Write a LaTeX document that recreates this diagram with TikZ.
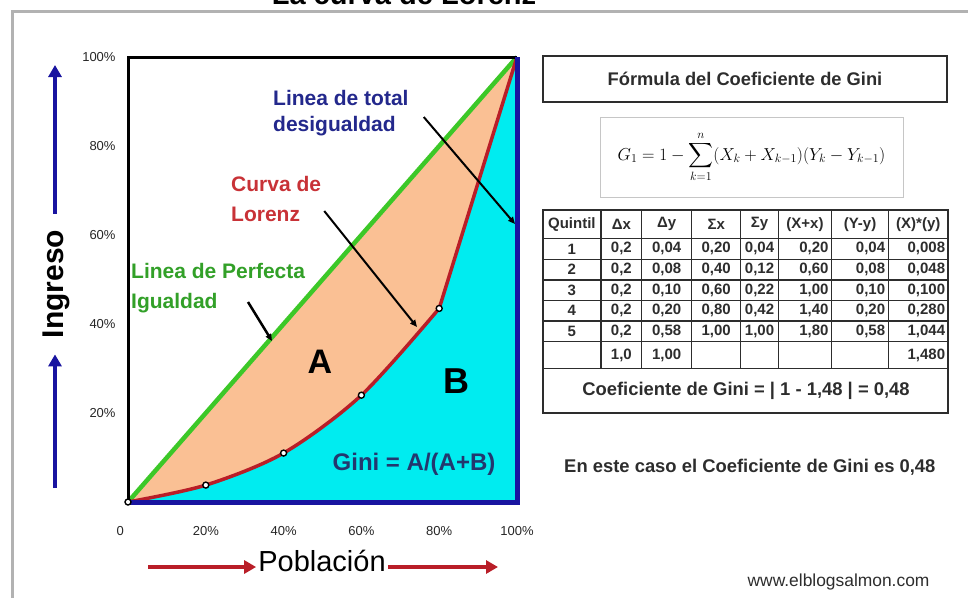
\documentclass[tikz,border=0pt]{standalone}
\usepackage[no-math]{fontspec}
\setmainfont{Liberation Sans}
\usepackage{amsmath}
\usepackage{xcolor}
\usetikzlibrary{arrows.meta}

\definecolor{cyanfill}{RGB}{0,236,240}
\definecolor{peach}{RGB}{250,192,148}
\definecolor{eqgreen}{RGB}{60,200,40}
\definecolor{lblgreen}{RGB}{50,160,40}
\definecolor{lorenzred}{RGB}{185,30,40}
\definecolor{lblred}{RGB}{200,50,55}
\definecolor{navy}{RGB}{25,20,160}
\definecolor{lblnavy}{RGB}{35,40,140}
\definecolor{ginitxt}{RGB}{35,55,110}
\definecolor{darktxt}{RGB}{45,45,45}

\tikzset{
  annot/.style={line width=2pt,-{Triangle[length=7pt,width=6pt]}},
  bigarrow/.style={line width=4.5pt,-{Triangle[length=12pt,width=13pt]}},
  ticklbl/.style={font=\fontsize{13}{15}\selectfont, text=black!85},
  lbl/.style={font=\fontsize{21}{30}\selectfont\bfseries, align=left, anchor=west, inner sep=0pt},
  cell/.style={font=\fontsize{15}{17}\selectfont\bfseries, text=darktxt, inner sep=0pt},
  ldot/.style={circle, draw=black, fill=white, line width=1.4pt, inner sep=0pt, minimum size=6pt},
}

\begin{document}
\begin{tikzpicture}[x=1pt,y=-1pt]
\useasboundingbox (0,0) rectangle (968,597);

% Outer frame
\draw[line width=3pt,gray!60] (12,600) -- (12,11) -- (972,11);

% Title
\node[font=\fontsize{29}{32}\selectfont\bfseries, anchor=base] (title) at (404,5) {La curva de Lorenz};

% Lorenz diagram (coordinates in percent)
\begin{scope}[shift={(128,502)}, x=3.89pt, y=4.45pt]
    % Areas A and B
    \fill[peach] (0,0) -- (100,100) -- (100,0) -- cycle;
    \fill[cyanfill] plot[smooth] coordinates {(0,0) (20,3.8) (40,11) (60,24) (80,43.5)}
        -- (100,100) -- (100,0) -- cycle;

    % Line of perfect equality
    \draw[line width=4.5pt,eqgreen] (0,0) -- (100,100);

    % Lorenz curve
    \draw[line width=3.5pt,lorenzred,line join=round]
        plot[smooth] coordinates {(0,0) (20,3.8) (40,11) (60,24) (80,43.5)} -- (100,100);

    % Frame
    \draw[line width=3pt] (0,0) -- (0,100) -- (100,100);
    \draw[line width=5pt,navy] (0,0) -- (100,0) -- (100,100);

    % Data points
    \foreach \px/\py [count=\i] in {0/0, 20/3.8, 40/11, 60/24, 80/43.5}
        \node[ldot] (q\i) at (\px,\py) {};

    % X-axis labels
    \node[ticklbl] (xl0) at (-2,-6.5) {0};
    \foreach \x in {20,40,60,80,100}
        \node[ticklbl] (xl\x) at (\x,-6.5) {\x\%};

    % Y-axis labels
    \foreach \y in {20,40,60,80,100}
        \node[ticklbl,anchor=east] (yl\y) at (-2.3,\y) {\y\%};
\end{scope}

% Annotations
\node[lbl,text=lblnavy,font=\fontsize{21}{26}\selectfont\bfseries] (ltotal) at (273,113) {Linea de total\\desigualdad};
\node[lbl,text=lblred] (llorenz) at (231,199) {Curva de\\Lorenz};
\node[lbl,text=lblgreen] (ligual) at (131,288) {Linea de Perfecta\\Igualdad};

\coordinate (total tip) at (515,224);
\coordinate (lorenz tip) at (417,327);
\coordinate (igual tail) at (248,302);
\coordinate (igual tip) at (272,341);
\draw[annot] ([xshift=15pt,yshift=-4pt]ltotal.east) -- (total tip);
\draw[annot] ([xshift=3pt,yshift=-12pt]llorenz.east) -- (lorenz tip);
\draw[annot,line width=2.5pt] (igual tail) -- (igual tip);

% Areas
\node[font=\fontsize{34}{36}\selectfont\bfseries] (areaA) at (320,362) {A};
\node[font=\fontsize{36}{38}\selectfont\bfseries] (areaB) at (456,381) {B};
\node[font=\fontsize{24}{26}\selectfont\bfseries,text=ginitxt] (gini) at (414,464) {Gini = A/(A+B)};

% Axis titles
\node[font=\fontsize{29}{32}\selectfont,inner xsep=2pt] (pobl) at (322,561) {Población};
\coordinate (pobl tail) at (148,567);
\coordinate (pobl tip) at (498,567);
\draw[bigarrow,lorenzred] (pobl tail) -- (pobl tail -| pobl.west);
\draw[bigarrow,lorenzred] (pobl tail -| pobl.east) -- (pobl tip);

\node[font=\fontsize{30}{32}\selectfont\bfseries,rotate=90,inner xsep=16pt] (ingreso) at (56,284) {Ingreso};
\coordinate (ingr tail) at (55,488);
\coordinate (ingr tip) at (55,65);
\draw[bigarrow,navy] (ingr tail) -- (ingreso.west -| ingr tail);
\draw[bigarrow,navy] (ingreso.east -| ingr tip) -- (ingr tip);

% Formula
\node[draw=darktxt,line width=2.2pt,minimum width=404pt,minimum height=46pt,
      font=\fontsize{18.3}{20}\selectfont\bfseries,text=darktxt] (ftitle) at (745,79) {Fórmula del Coeficiente de Gini};
\node[draw=gray!45,line width=1pt,minimum width=303pt,minimum height=80pt,
      font=\fontsize{17.6}{20}\selectfont] (formula) at (751.5,157)
      {$\displaystyle G_1 = 1-\sum_{k=1}^{n}(X_k+X_{k-1})(Y_k-Y_{k-1})$};

% Table grid
\foreach \x in {601,641.7,691.7,740.7,778.3,831.7,888.3}
    \draw[line width=1.2pt,darktxt] (\x,210) -- (\x,368.3);
\foreach \y in {238.5,259.3,280,300.5,321,341.7,368.3}
    \draw[line width=1.2pt,darktxt] (542.7,\y) -- (948.3,\y);
\draw[line width=2pt,darktxt] (542.7,210) rectangle (948.3,413.3);

% Table header
\foreach \cx/\txt [count=\c] in {571.85/Quintil, 621.35/Δx, 666.7/Δy, 716.2/Σx, 759.5/Σy,
        805/(X+x), 860/(Y-y), 918.3/(X)*(y)}
    \node[cell] (h\c) at (\cx,224.25) {\txt};

% Table rows
\foreach \ry/\q/\dx/\dy/\sx/\sy/\xx/\yy/\xy [count=\r] in {
        248.9/1/{0,2}/{0,04}/{0,20}/{0,04}/{0,20}/{0,04}/{0,008},
        269.65/2/{0,2}/{0,08}/{0,40}/{0,12}/{0,60}/{0,08}/{0,048},
        290.25/3/{0,2}/{0,10}/{0,60}/{0,22}/{1,00}/{0,10}/{0,100},
        310.75/4/{0,2}/{0,20}/{0,80}/{0,42}/{1,40}/{0,20}/{0,280},
        331.35/5/{0,2}/{0,58}/{1,00}/{1,00}/{1,80}/{0,58}/{1,044}}
{
    \node[cell] (q\r) at (571.85,\ry) {\q};
    \node[cell] (dx\r) at (621.35,\ry) {\dx};
    \node[cell] (dy\r) at (666.7,\ry) {\dy};
    \node[cell] (sx\r) at (716.2,\ry) {\sx};
    \node[cell] (sy\r) at (759.5,\ry) {\sy};
    \node[cell,anchor=east] (xx\r) at (828.7,\ry) {\xx};
    \node[cell,anchor=east] (yy\r) at (885.3,\ry) {\yy};
    \node[cell,anchor=east] (xy\r) at (945.3,\ry) {\xy};
}

% Totals
\node[cell] (dxsum) at (621.35,355) {1,0};
\node[cell] (dysum) at (666.7,355) {1,00};
\node[cell,anchor=east] (xysum) at (945.3,355) {1,480};

% Result
\node[font=\fontsize{18.4}{20}\selectfont\bfseries,text=darktxt] (result) at (746,391) {Coeficiente de Gini = | 1 - 1,48 | = 0,48};
\node[font=\fontsize{18.4}{20}\selectfont\bfseries,text=darktxt,anchor=west] (caso) at (560.7,467) {En este caso el Coeficiente de Gini es 0,48};
\node[font=\fontsize{17.4}{20}\selectfont,text=darktxt,anchor=east] (web) at (933,582) {www.elblogsalmon.com};

\end{tikzpicture}
\end{document}
